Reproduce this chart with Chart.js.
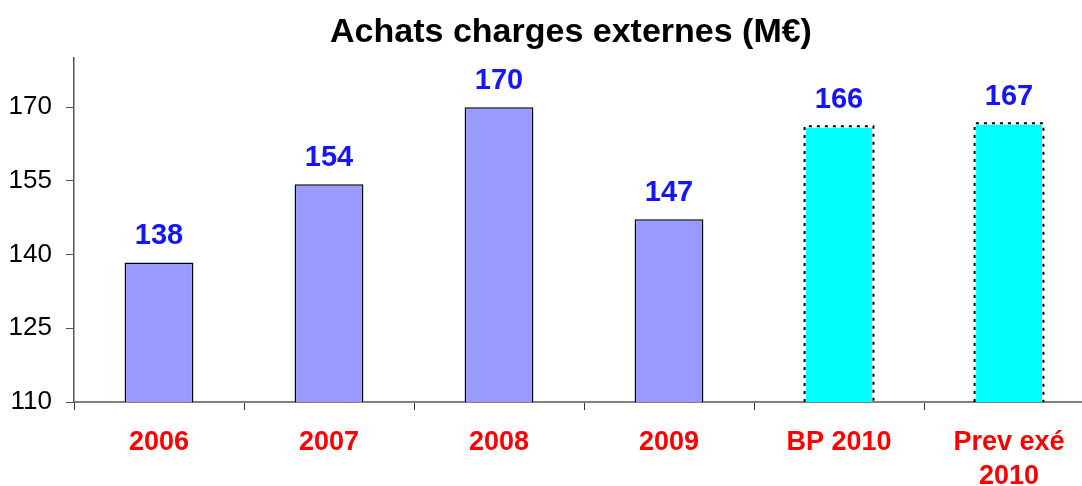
<!DOCTYPE html>
<html>
<head>
<meta charset="utf-8">
<script src="https://cdn.jsdelivr.net/npm/chart.js@4/dist/chart.umd.min.js"></script>
<style>
html,body{margin:0;padding:0;background:#fff;overflow:hidden;}
#wrap{width:1100px;height:486px;position:relative;}
</style>
</head>
<body>
<div id="wrap"><canvas id="c"></canvas></div>
<script>
const categories = [["2006"], ["2007"], ["2008"], ["2009"], ["BP 2010"], ["Prev exé", "2010"]];
const values = [138.4, 154.3, 170, 147.2, 166.1, 166.7];
const valueLabels = ["138", "154", "170", "147", "166", "167"];
const yTicks = [110, 125, 140, 155, 170];
const titleText = "Achats charges externes (M€)";

const fillColors = ["#9999ff", "#9999ff", "#9999ff", "#9999ff", "#00ffff", "#00ffff"];

const FONT = "'Liberation Sans', Arial, sans-serif";

const cyanDash = {
  id: 'cyanDash',
  afterDatasetsDraw(chart) {
    const ctx = chart.ctx;
    const meta = chart.getDatasetMeta(0);
    const b = chart.scales.y.getPixelForValue(110);
    ctx.save();
    meta.data.forEach((bar, i) => {
      if (i < 4) return;
      const half = bar.width / 2;
      const l = bar.x - half, r = bar.x + half, t = bar.y;
      ctx.strokeStyle = '#000';
      ctx.lineWidth = 2;
      ctx.setLineDash([3, 5]);
      ctx.beginPath();
      ctx.moveTo(l, b); ctx.lineTo(l, t); ctx.lineTo(r, t); ctx.lineTo(r, b);
      ctx.stroke();
    });
    ctx.restore();
  }
};

const labelsPlugin = {
  id: 'labelsPlugin',
  afterDraw(chart) {
    const ctx = chart.ctx;
    const meta = chart.getDatasetMeta(0);
    ctx.save();
    ctx.font = "bold 29px " + FONT;
    ctx.fillStyle = '#1414ff';
    ctx.textAlign = 'center';
    ctx.textBaseline = 'alphabetic';
    meta.data.forEach((bar, i) => {
      ctx.fillText(valueLabels[i], bar.x, bar.y - 18);
    });
    ctx.font = "bold 34px " + FONT;
    ctx.fillStyle = '#000';
    ctx.fillText(titleText, 571, 42);
    ctx.restore();
  }
};

new Chart(document.getElementById('c'), {
  type: 'bar',
  data: {
    labels: categories,
    datasets: [{
      data: values,
      backgroundColor: fillColors,
      borderColor: ['#000', '#000', '#000', '#000', 'rgba(0,0,0,0)', 'rgba(0,0,0,0)'],
      borderWidth: 1.5,
      borderSkipped: 'bottom',
      barPercentage: 0.405,
      categoryPercentage: 1.0
    }]
  },
  options: {
    responsive: true,
    maintainAspectRatio: false,
    animation: false,
    layout: { padding: { top: 58, right: 6, left: 0, bottom: 0 } },
    plugins: { legend: { display: false }, tooltip: { enabled: false }, title: { display: false } },
    scales: {
      x: {
        offset: true,
        grid: { display: true, drawOnChartArea: false, drawTicks: true, tickLength: 8, color: '#333', offset: true },
        border: { display: true, color: '#808080', width: 2 },
        ticks: { color: '#ff0000', font: { family: FONT, size: 27, weight: 'bold', lineHeight: 1.25 }, padding: 16, maxRotation: 0, autoSkip: false },
        afterFit(scale) { scale.height = 84; }
      },
      y: {
        min: 110, max: 180,
        afterBuildTicks(scale) { scale.ticks = yTicks.map(v => ({ value: v })); },
        grid: { display: true, drawOnChartArea: false, drawTicks: true, tickLength: 8, color: '#555' },
        border: { display: true, color: '#555', width: 1.5 },
        ticks: { color: '#000', font: { family: FONT, size: 26 }, padding: 14 },
        afterFit(scale) { scale.width = 74; }
      }
    }
  },
  plugins: [cyanDash, labelsPlugin]
});
</script>
</body>
</html>
